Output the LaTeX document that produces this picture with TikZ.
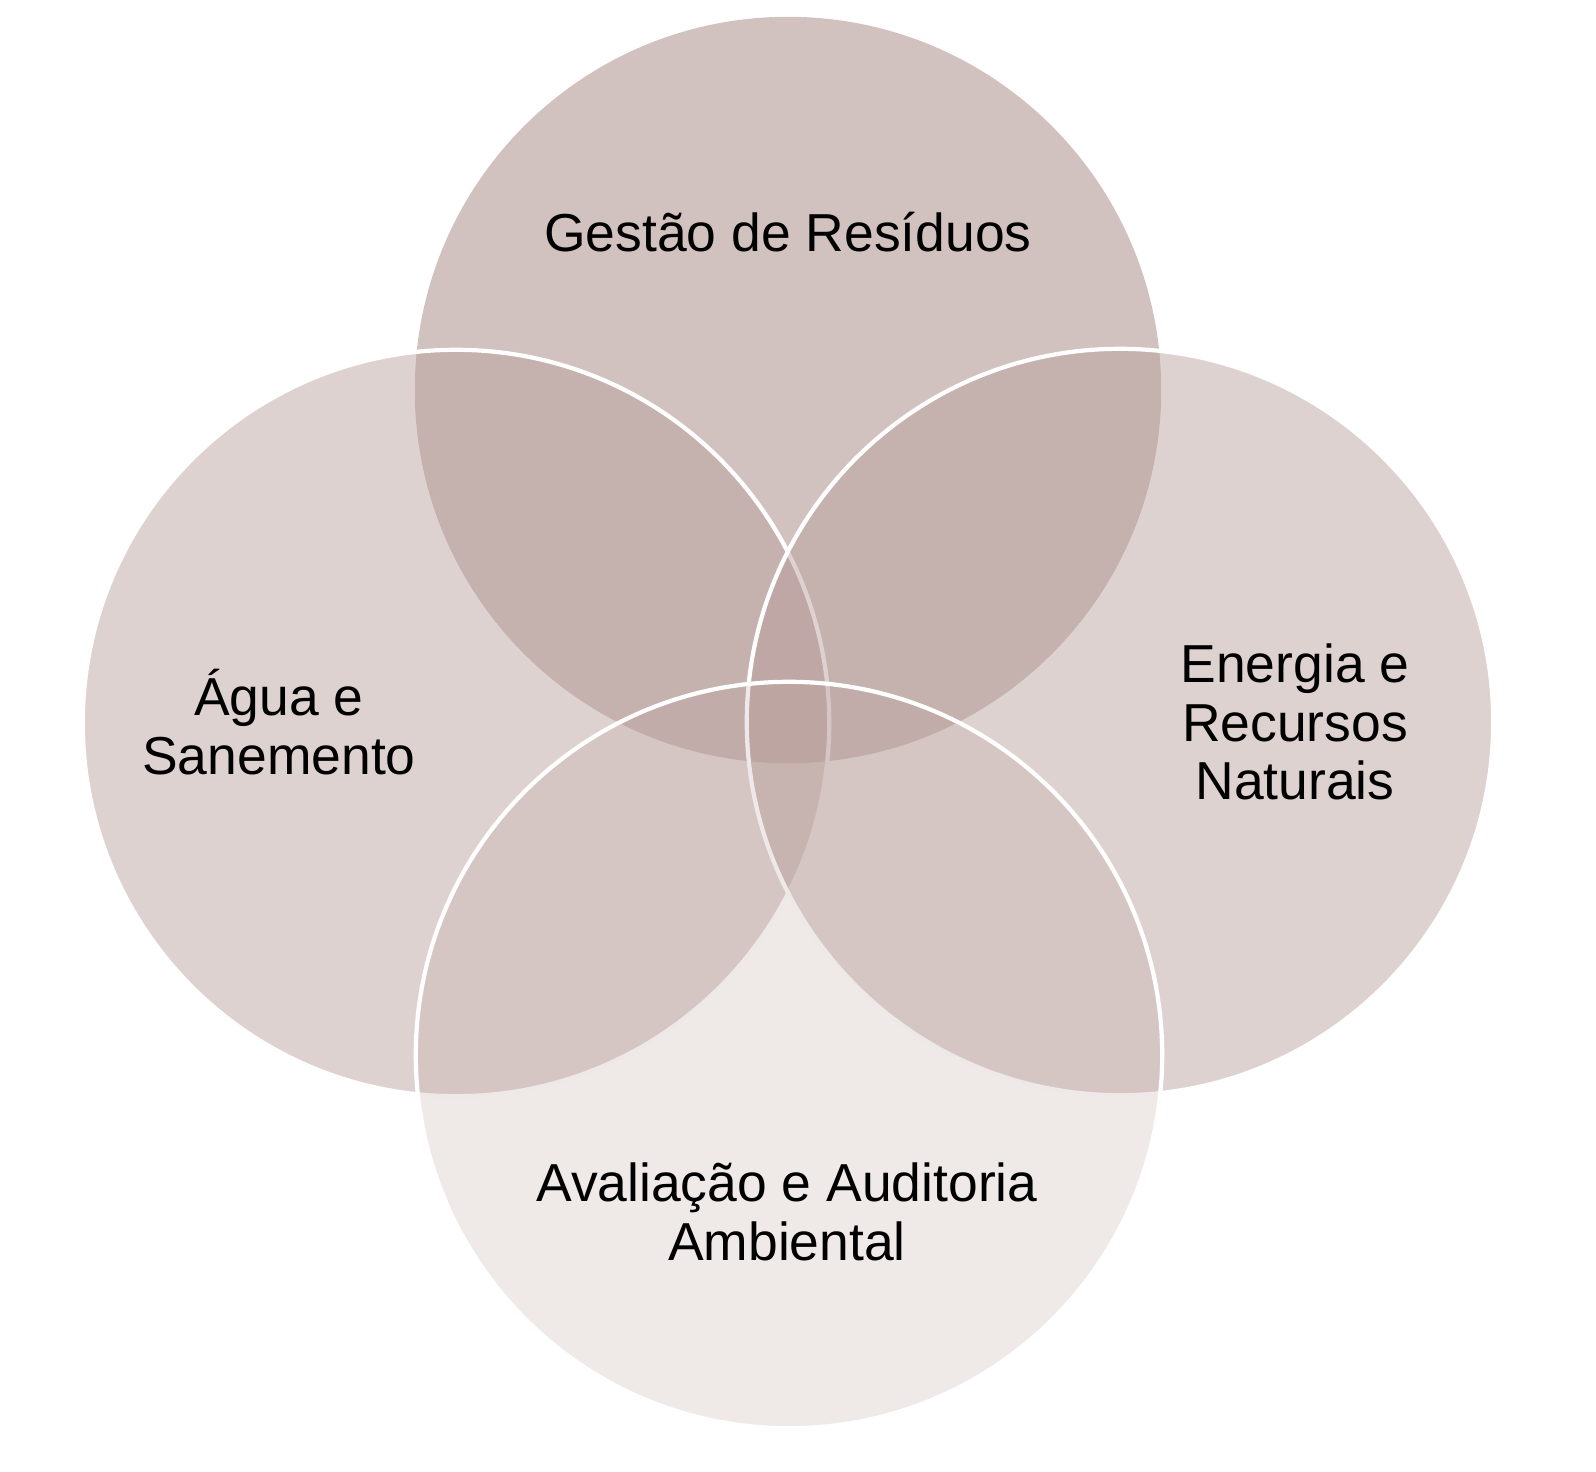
\documentclass[tikz,border=0pt]{standalone}
\usepackage{fontspec}
\setmainfont{Liberation Sans}
\begin{document}
\begin{tikzpicture}[x=0.01cm,y=-0.01cm,
  circ/.style={circle,minimum size=7.46cm,inner sep=0pt,draw=white,line width=1.2pt,fill=base},
  lbl/.style={align=center,font=\fontsize{15.2}{16.6}\selectfont,text=black}]
\definecolor{base}{RGB}{182,156,152}
\useasboundingbox (0,0) rectangle (1596,1472);
\node[circ,fill opacity=0.62,draw opacity=0] (top) at (788,390) {};
\node[circ,fill opacity=0.45] (left) at (456,723) {};
\node[circ,fill opacity=0.45] (right) at (1120,722) {};
\node[circ,fill opacity=0.22] (bottom) at (789,1055) {};
\node[lbl] (t1) at (788,232) {Gestão de Resíduos};
\node[lbl] (t2) at (279,722) {Água e\\Sanemento};
\node[lbl] (t3) at (1295,722) {Energia e\\Recursos\\Naturais};
\node[lbl] (t4) at (787,1212) {Avaliação e Auditoria\\Ambiental};
\end{tikzpicture}
\end{document}
